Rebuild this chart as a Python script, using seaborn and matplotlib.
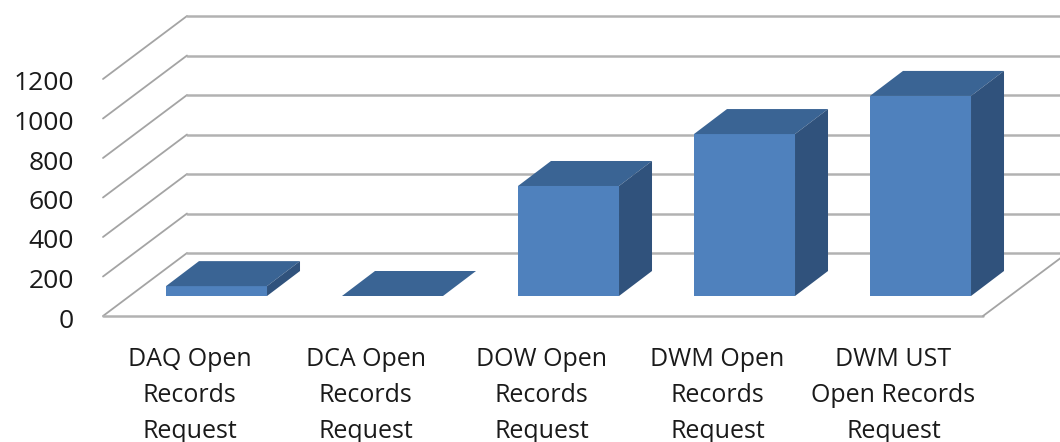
import matplotlib
matplotlib.use('Agg')
import matplotlib.pyplot as plt
import seaborn as sns
from matplotlib.patches import Polygon
from matplotlib.transforms import Affine2D

categories = ['DAQ Open\nRecords\nRequest', 'DCA Open\nRecords\nRequest', 'DOW Open\nRecords\nRequest',
              'DWM Open\nRecords\nRequest', 'DWM UST\nOpen Records\nRequest']
values = [50, 0, 557, 820, 1013]
y_ticks = [0, 200, 400, 600, 800, 1000, 1200]

sns.set_theme(style='white')
plt.rcParams['font.family'] = ['Open Sans', 'DejaVu Sans']

W, H = 1060, 442
fig = plt.figure(figsize=(W / 100, H / 100), dpi=100)
ax = fig.add_axes([128.5 / W, (H - 296) / H, 880 / W, 237 / H])

sns.barplot(x=categories, y=values, width=0.574, color='#4F81BD', saturation=1, ax=ax,
            zorder=3, linewidth=0, edgecolor='none')
ax.set_xlim(-0.5, 4.5)
ax.set_ylim(0, 1200)
ax.axis('off')

# pixel coordinates, origin top left
px = Affine2D().scale(1 / W, -1 / H).translate(0, 1) + fig.transFigure
to_px = (ax.transData + px.inverted()).transform

grid_color = '#B2B2B2'
diag_color = '#A4A4A4'
floor_left = 103
floor_right = 983
floor_y = 316
unit = 39.5 / 200
depth_x, depth_y = 84, -63
bar_dx, bar_dy = 33, -25

# walls and floor
for t in y_ticks:
    y = floor_y - t * unit
    ax.plot([floor_left, floor_left + depth_x], [y, y + depth_y],
            color=diag_color, lw=1.3, transform=px, clip_on=False, zorder=1)
    ax.plot([floor_left + depth_x, W], [y + depth_y, y + depth_y],
            color=grid_color, lw=1.8, transform=px, clip_on=False, zorder=1)
    ax.text(floor_left - 29, y + 5, str(t), transform=px, ha='right', va='center',
            fontsize=19, color='#1A1A1A')
ax.plot([floor_left, floor_right], [floor_y, floor_y],
        color=grid_color, lw=1.8, transform=px, clip_on=False, zorder=1)
ax.plot([floor_right, W + 2], [floor_y, floor_y - 59],
        color=diag_color, lw=1.3, transform=px, clip_on=False, zorder=1)

# depth faces of the bars
for i, bar in enumerate(ax.patches):
    (x0, y1), (x1, y0) = to_px([(bar.get_x(), bar.get_height()), (bar.get_x() + bar.get_width(), 0)])
    top = [(x0, y1), (x1, y1), (x1 + bar_dx, y1 + bar_dy), (x0 + bar_dx, y1 + bar_dy)]
    side = [(x1, y1), (x1, y0), (x1 + bar_dx, y0 + bar_dy), (x1 + bar_dx, y1 + bar_dy)]
    ax.add_patch(Polygon(top, closed=True, fc='#3A6494', ec='none', transform=px, clip_on=False, zorder=4))
    ax.add_patch(Polygon(side, closed=True, fc='#30527C', ec='none', transform=px, clip_on=False, zorder=4))
    ax.text((x0 + x1) / 2 - 27, 347, categories[i], transform=px, ha='center', va='top',
            fontsize=18, color='#1A1A1A', linespacing=1.58, clip_on=False)

fig.savefig('out.png', dpi=100)
